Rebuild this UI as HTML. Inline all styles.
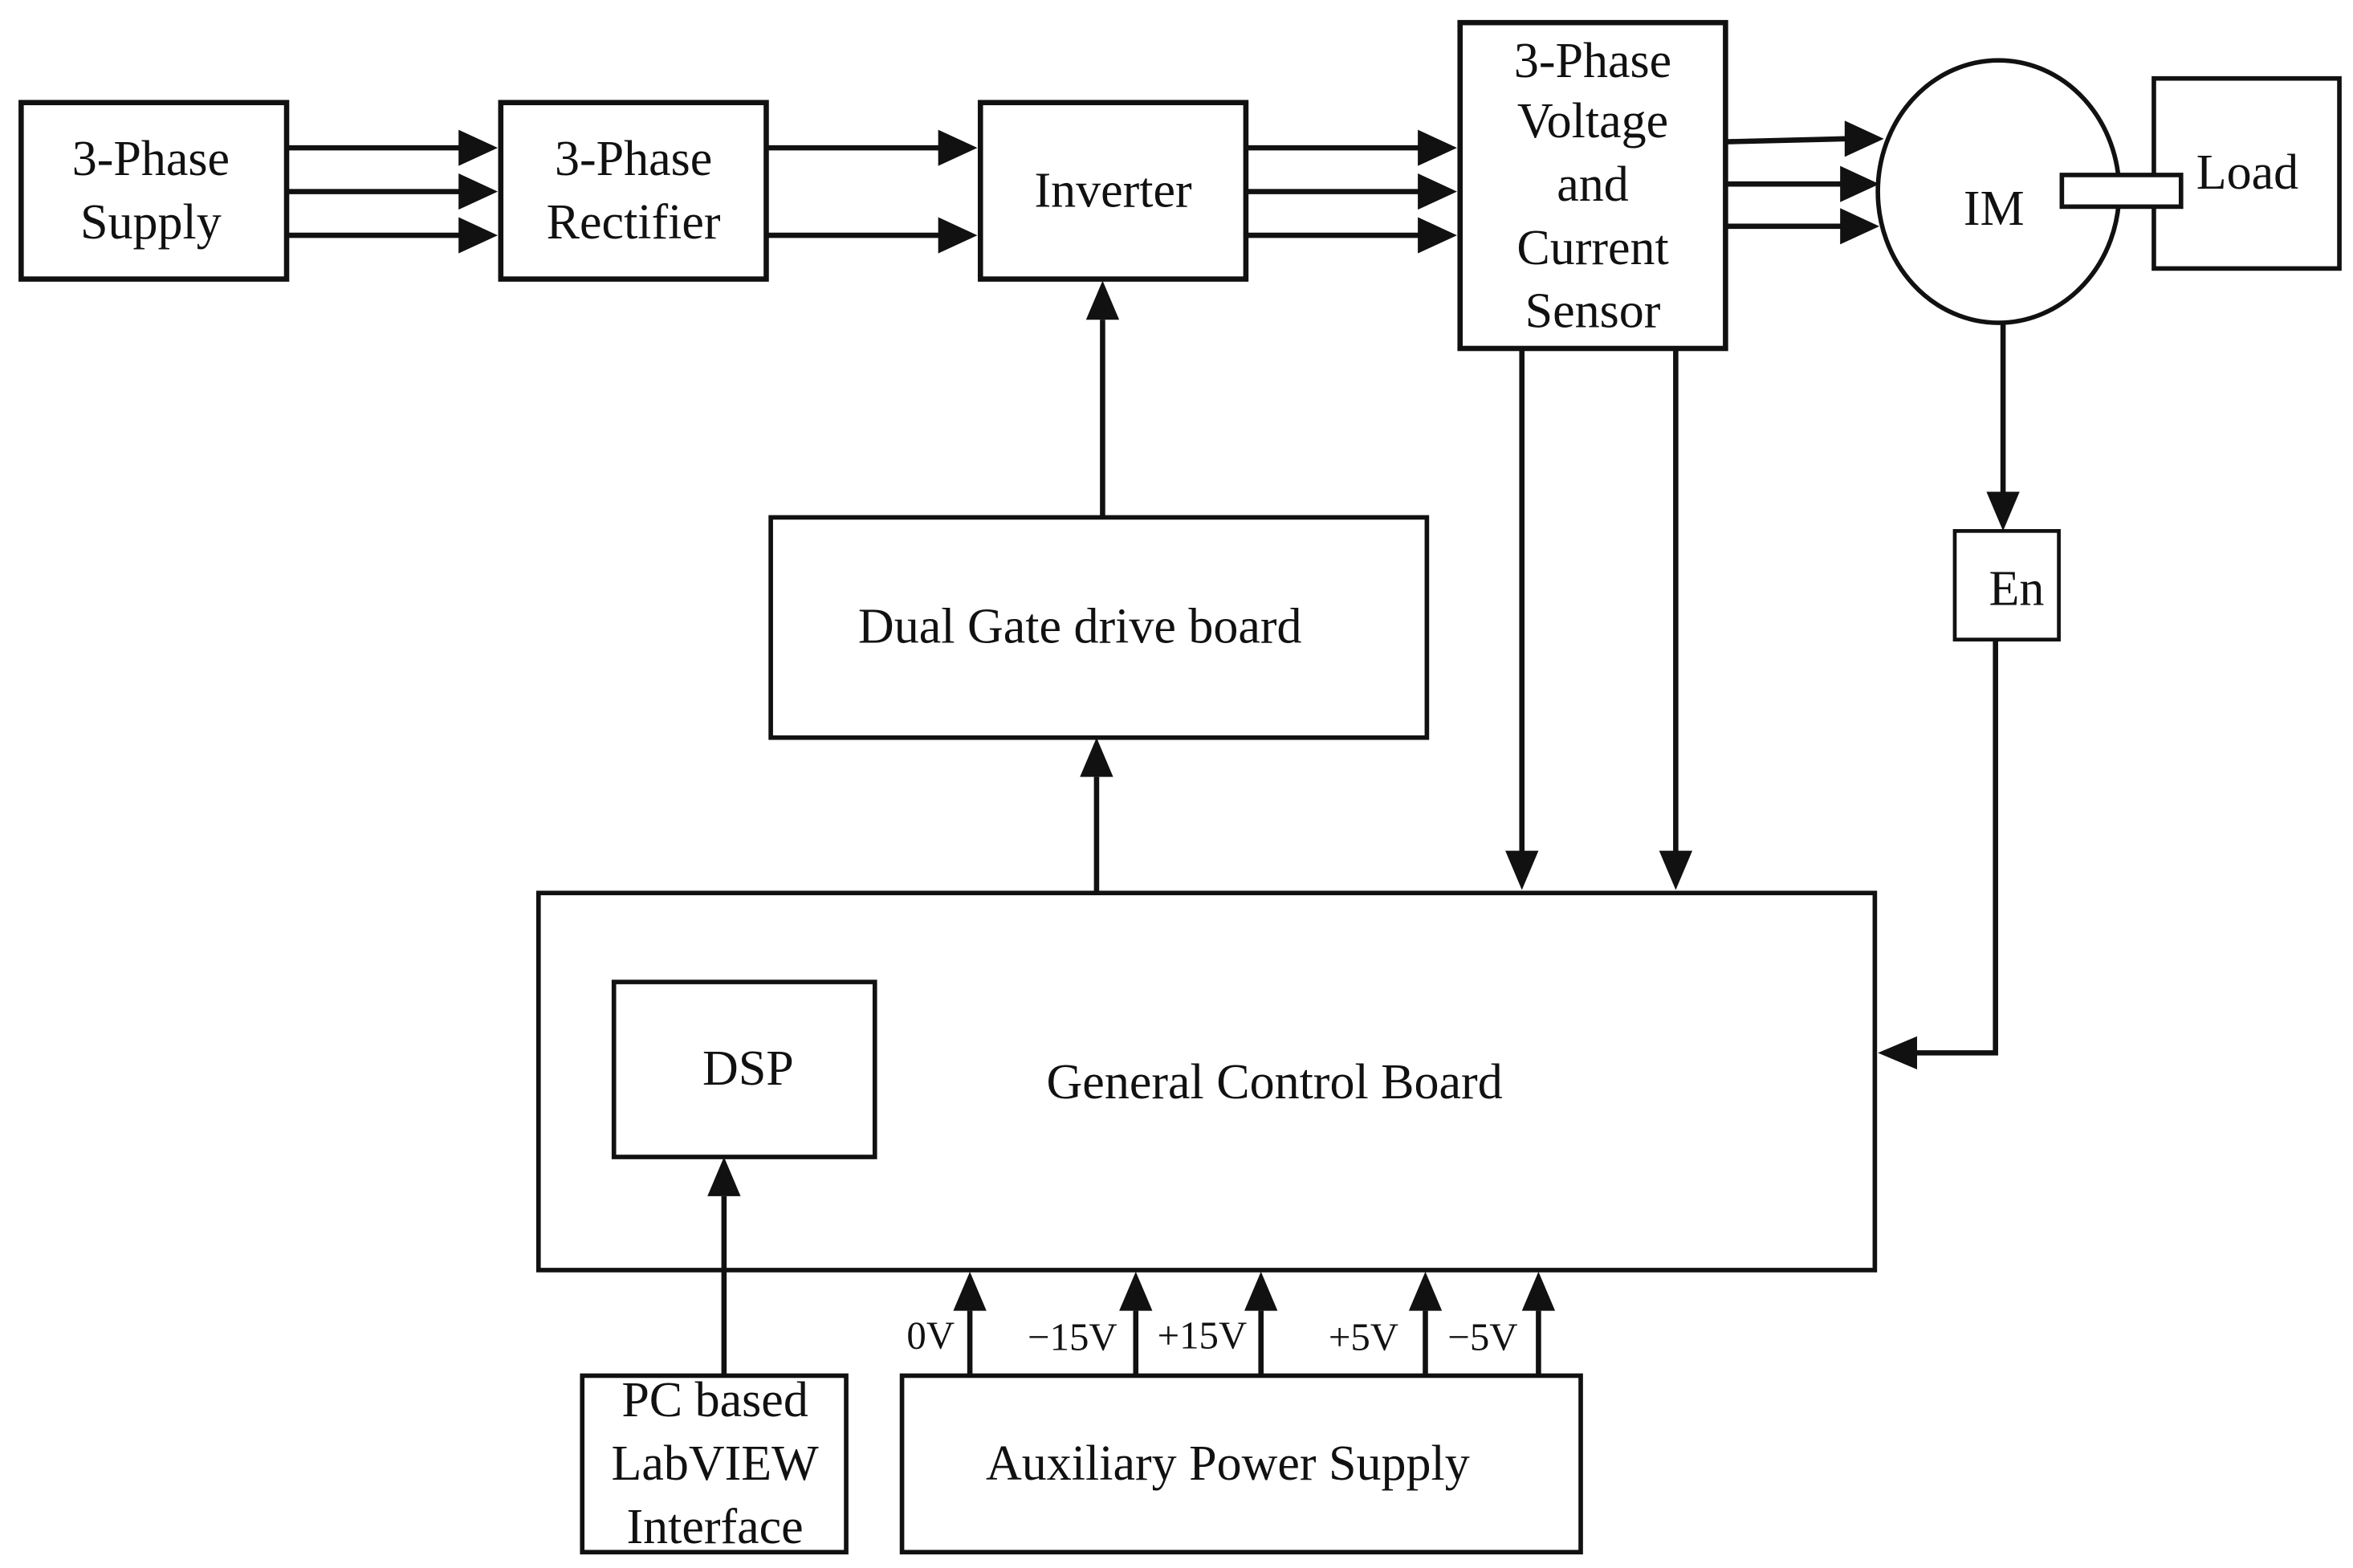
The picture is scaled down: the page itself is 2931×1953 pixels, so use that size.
<!DOCTYPE html>
<html><head><meta charset="utf-8"><style>
html,body{margin:0;padding:0;background:#fff}
svg{display:block}
text{font-family:"Liberation Serif",serif;fill:#111;text-anchor:middle}
</style></head><body>
<svg width="2931" height="1953" viewBox="0 0 1560 1039.5" xmlns="http://www.w3.org/2000/svg">
<g fill="none" stroke="#111" stroke-width="3.5">
<rect x="14" y="68" width="176" height="117"/>
<rect x="332" y="68" width="176" height="117"/>
<rect x="650" y="68" width="176" height="117"/>
<rect x="968" y="15" width="176" height="216"/>
<ellipse cx="1325" cy="127" rx="80" ry="87" stroke-width="3"/>
<rect x="1428" y="52" width="123" height="126" stroke-width="3"/>
<rect x="511" y="343" width="435" height="146" stroke-width="3"/>
<rect x="357" y="592" width="886" height="250" stroke-width="3"/>
<rect x="407" y="651" width="173" height="116" stroke-width="3"/>
<rect x="1296" y="352" width="69" height="72" stroke-width="2.5"/>
<rect x="386" y="912" width="175" height="117" stroke-width="3"/>
<rect x="598" y="912" width="450" height="117" stroke-width="3"/>
<path d="M190 98H306M190 127H306M190 156H306M508 98H624M508 156H624M826 98H944M826 127H944M826 156H944M1144 94L1224 92M1144 122H1222M1144 150H1222"/>
<path d="M731 343V212M727 592V515M1009 231V566M1111 231V566M1328 214V328M1323 424V698H1270M480 912V793M643 912V869M753 912V869M836 912V869M945 912V869M1020 912V869" stroke-width="3.5"/>
</g>
<rect x="1367" y="116" width="79" height="21" fill="#fff" stroke="#111" stroke-width="3"/>
<g fill="#111">
<path d="M330 98l-26-12v24zM330 127l-26-12v24zM330 156l-26-12v24z"/>
<path d="M648 98l-26-12v24zM648 156l-26-12v24z"/>
<path d="M966 98l-26-12v24zM966 127l-26-12v24zM966 156l-26-12v24z"/>
<path d="M1249 92l-26-12v24zM1246 122l-26-12v24zM1246 150l-26-12v24z"/>
<path d="M731 186l-11 26h22zM727 489l-11 26h22zM1009 590l-11-26h22zM1111 590l-11-26h22zM1328 352l-11-26h22zM1245 698l26-11v22zM480 767l-11 26h22z"/>
<path d="M643 843l-11 26h22zM753 843l-11 26h22zM836 843l-11 26h22zM945 843l-11 26h22zM1020 843l-11 26h22z"/>
</g>
<g font-size="33">
<text x="100" y="116">3-Phase</text><text x="100" y="158">Supply</text>
<text x="420" y="116">3-Phase</text><text x="420" y="158">Rectifier</text>
<text x="738" y="137">Inverter</text>
<text x="1056" y="51">3-Phase</text><text x="1056" y="91">Voltage</text><text x="1056" y="133">and</text><text x="1056" y="175">Current</text><text x="1056" y="217">Sensor</text>
<text x="1322" y="149">IM</text>
<text x="1490" y="125">Load</text>
<text x="1337" y="401">En</text>
<text x="716" y="426">Dual Gate drive board</text>
<text x="845" y="728">General Control Board</text>
<text x="496" y="719">DSP</text>
<text x="474" y="939">PC based</text><text x="474" y="981">LabVIEW</text><text x="474" y="1023">Interface</text>
<text x="814" y="981">Auxiliary Power Supply</text>
</g>
<g font-size="26">
<text x="617" y="894">0V</text>
<text x="711" y="895">−15V</text>
<text x="797" y="894">+15V</text>
<text x="904" y="895">+5V</text>
<text x="983" y="895">−5V</text>
</g>
</svg>
</body></html>
